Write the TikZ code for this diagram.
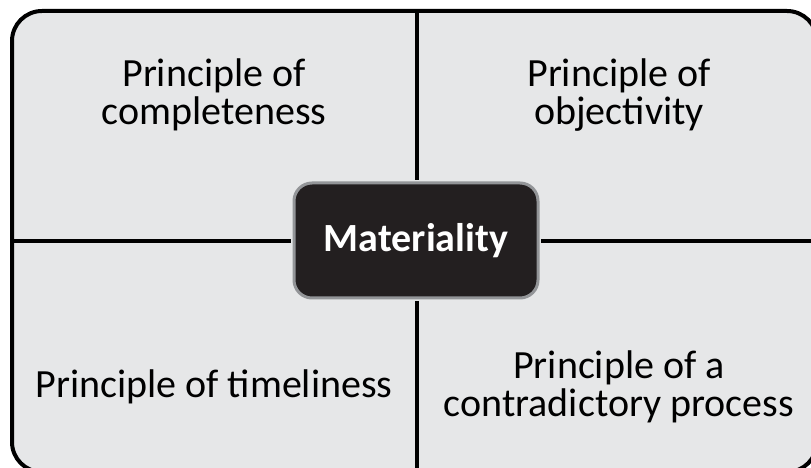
\documentclass[tikz,border=0pt]{standalone}
\usepackage{fontspec}
\setmainfont{Carlito}
\definecolor{panelgray}{HTML}{E6E7E8}
\definecolor{hubfill}{HTML}{231F20}
\definecolor{hubrim}{HTML}{939598}
\tikzset{
  principle/.style={anchor=base, align=center, inner sep=0pt,
    font=\fontsize{40}{38}\selectfont},
  hub/.style={draw=hubrim, fill=hubfill, line width=3pt, rounded corners=18pt,
    minimum width=244pt, minimum height=115pt, text=white,
    font=\fontsize{40}{40}\selectfont\bfseries},
  divider/.style={line width=4pt}
}

\begin{document}
\begin{tikzpicture}[x=1pt,y=1pt]
    \useasboundingbox (0,0) rectangle (811,468);
    % outer frame, runs off the right and bottom edges
    \draw[divider, fill=panelgray, rounded corners=30pt] (12,457) rectangle (817,-4);
    \coordinate (top) at (416.5,457);
    \coordinate (bottom) at (416.5,-4);
    \coordinate (left) at (12,227);
    \coordinate (right) at (817,227);
    \node[hub] (mat) at (416,227.5) {Materiality};
    \draw[divider, shorten >=1.5pt] (top) -- (mat.north -| top);
    \draw[divider, shorten <=1.5pt] (mat.south -| bottom) -- (bottom);
    \draw[divider, shorten >=1.5pt] (left) -- (mat.west |- left);
    \draw[divider, shorten <=1.5pt] (mat.east |- right) -- (right);
    % the four quadrants (base = last line)
    \node[principle] (compl) at (214,343) {Principle of\\completeness};
    \node[principle] (objec) at (619,343) {Principle of\\objectivity};
    \node[principle] (timel) at (214,70) {Principle of timeliness};
    \node[principle] (contr) at (619,51) {Principle of a\\contradictory process};
\end{tikzpicture}
\end{document}
